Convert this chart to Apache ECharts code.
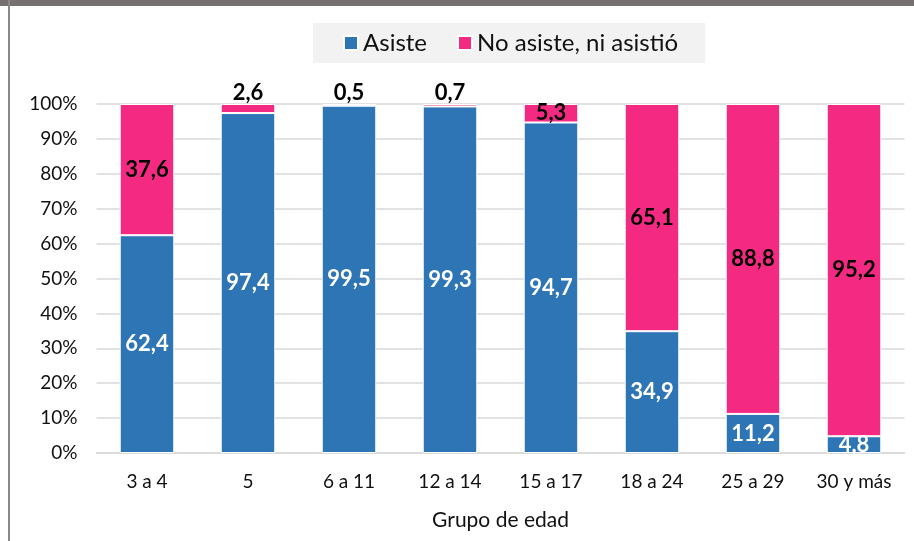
<!DOCTYPE html>
<html>
<head>
<meta charset="utf-8">
<script src="https://cdn.jsdelivr.net/npm/echarts@6/dist/echarts.min.js"></script>
<style>
  html, body { margin: 0; padding: 0; background: #fff; }
  #wrap { position: relative; width: 914px; height: 541px; overflow: hidden; }
  #topbar { position: absolute; left: 0; top: 0; width: 914px; height: 6px; background: #767171; }
  #leftbar { position: absolute; left: 8px; top: 0; width: 2px; height: 541px; background: #8c8888; }
  #chart { position: absolute; left: 0; top: 0; width: 914px; height: 541px; }
</style>
</head>
<body>
<div id="wrap">
  <div id="chart"></div>
  <div id="topbar"></div>
  <div id="leftbar"></div>
</div>
<script>
// grupos de edad
const categories = ['3 a 4', '5', '6 a 11', '12 a 14', '15 a 17', '18 a 24', '25 a 29', '30 y más'];
// porcentajes
const asiste = [62.4, 97.4, 99.5, 99.3, 94.7, 34.9, 11.2, 4.8];
const noAsiste = [37.6, 2.6, 0.5, 0.7, 5.3, 65.1, 88.8, 95.2];
const yTicks = [0, 10, 20, 30, 40, 50, 60, 70, 80, 90, 100];

const fontFam = 'Lato, "Open Sans", sans-serif';
const fmt = p => String(p.value).replace('.', ',');

const chart = echarts.init(document.getElementById('chart'));

// valores chicos: etiqueta arriba de la barra
const noAsisteData = noAsiste.map(v => {
  if (v < 3) {
    return { value: v, label: { position: 'top', distance: 0 } };
  }
  return v;
});

chart.setOption({
  animation: false,
  textStyle: { fontFamily: fontFam },
  legend: {
    top: 23,
    left: 313,
    backgroundColor: '#F2F2F2',
    padding: [8, 27, 8, 30],
    itemWidth: 14,
    itemHeight: 14,
    itemGap: 30,
    icon: 'rect',
    textStyle: { fontSize: 24, color: '#111', fontFamily: fontFam },
    data: ['Asiste', 'No asiste, ni asistió']
  },
  grid: { left: 96.5, right: 9.5, top: 104, bottom: 88 },
  xAxis: {
    type: 'category',
    data: categories,
    name: 'Grupo de edad',
    nameLocation: 'middle',
    nameGap: 57,
    nameTextStyle: { fontSize: 21, color: '#111' },
    axisLine: { lineStyle: { color: '#D9D9D9', width: 1.5 } },
    axisTick: { show: false },
    axisLabel: { fontSize: 19, color: '#111', margin: 19 }
  },
  yAxis: {
    type: 'value',
    min: yTicks[0],
    max: yTicks[yTicks.length - 1],
    interval: 10,
    axisLine: { show: false },
    axisTick: { show: false },
    splitLine: { lineStyle: { color: '#D9D9D9', width: 1.5 } },
    axisLabel: { fontSize: 19, color: '#111', margin: 19, formatter: v => v + '%' }
  },
  series: [
    {
      name: 'Asiste',
      type: 'bar',
      stack: 'total',
      barWidth: '54%',
      data: asiste,
      itemStyle: { color: '#2E75B6', borderColor: '#fff', borderWidth: 1 },
      label: {
        show: true,
        position: 'inside',
        color: '#fff',
        fontWeight: 'bold',
        fontSize: 22,
        formatter: fmt
      }
    },
    {
      name: 'No asiste, ni asistió',
      type: 'bar',
      stack: 'total',
      data: noAsisteData,
      itemStyle: { color: '#F42A82', borderColor: '#fff', borderWidth: 1 },
      label: {
        show: true,
        position: 'inside',
        color: '#000',
        fontWeight: 'bold',
        fontSize: 22,
        formatter: fmt
      }
    }
  ]
});
</script>
</body>
</html>
